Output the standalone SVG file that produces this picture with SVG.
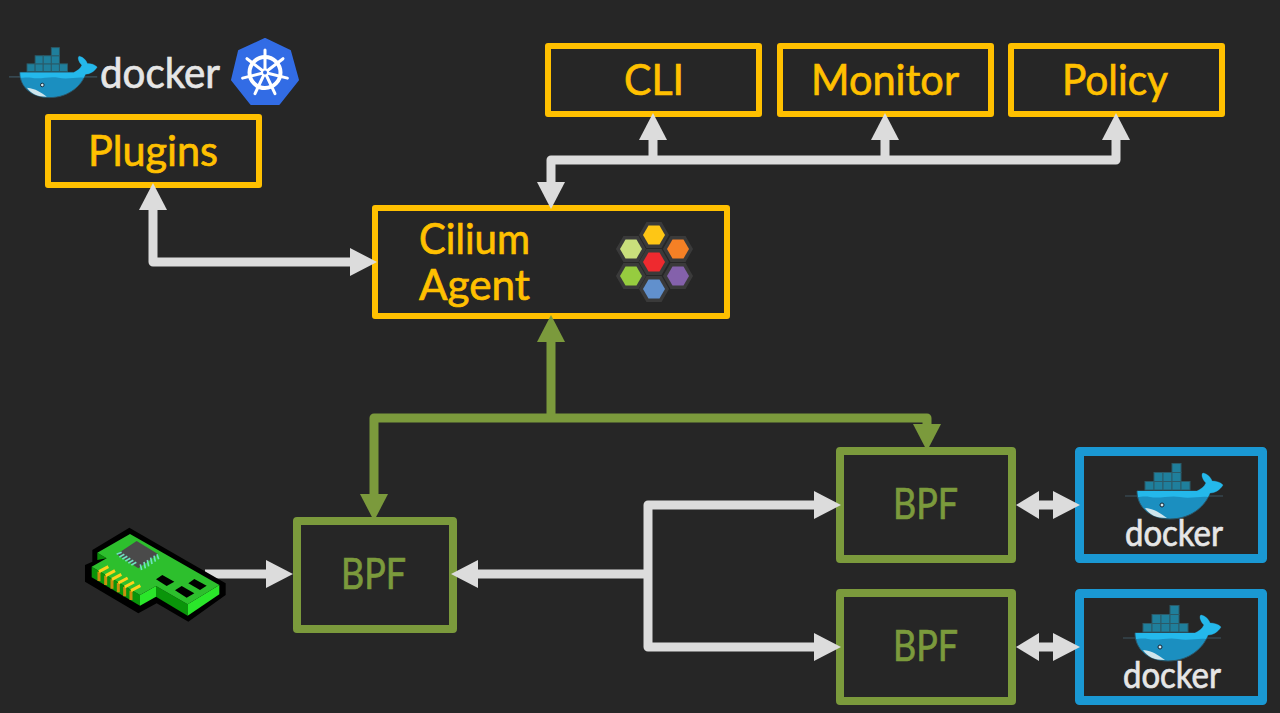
<svg xmlns="http://www.w3.org/2000/svg" xmlns:xlink="http://www.w3.org/1999/xlink" width="1280" height="713" viewBox="0 0 1280 713">
<style>
text{font-family:"Lato","Liberation Sans",sans-serif;font-weight:400;stroke-width:.7}
.y{fill:none;stroke:#ffc000;stroke-width:6;stroke-linejoin:round}
.g{fill:none;stroke:#7b9a3c;stroke-width:8;stroke-linejoin:round}
.b{fill:none;stroke:#1a98d3;stroke-width:9;stroke-linejoin:round}
.ty{fill:#ffc000;stroke:#ffc000;font-size:42px}
.tg{fill:#7b9a3c;stroke:#7b9a3c;font-size:42px}
.td{fill:#e6e6e6;stroke:#e6e6e6}
.w{fill:none;stroke:#dcdcdc;stroke-width:9;stroke-linejoin:round}
.l{fill:none;stroke:#7b9a3c;stroke-width:9;stroke-linejoin:round}
.hx{stroke:#3a3a3a;stroke-width:7;paint-order:stroke}
</style>
<defs>
<marker id="mw" markerUnits="userSpaceOnUse" markerWidth="27" markerHeight="28" refX="0" refY="14" orient="auto-start-reverse"><path d="M0 0L27 14L0 28Z" fill="#dcdcdc"/></marker>
<marker id="ms" markerUnits="userSpaceOnUse" markerWidth="23" markerHeight="28" refX="0" refY="14" orient="auto-start-reverse"><path d="M0 0L23 14L0 28Z" fill="#dcdcdc"/></marker>
<marker id="mg" markerUnits="userSpaceOnUse" markerWidth="27" markerHeight="28" refX="0" refY="14" orient="auto-start-reverse"><path d="M0 0L27 14L0 28Z" fill="#7b9a3c"/></marker>
<polygon id="hex" points="11,0 5.5,-9.5 -5.5,-9.5 -11,0 -5.5,9.5 5.5,9.5"/>
<g id="whale">
<path d="M115 51H213" stroke="#3d5560" stroke-width="1.2" fill="none"/>
<g fill="#1f7f9c" stroke="#2b5a68" stroke-width="1">
<rect x="135" y="36.500" width="9" height="8.500"/><rect x="144" y="36.500" width="9" height="8.500"/><rect x="153" y="36.500" width="9" height="8.500"/><rect x="162" y="36.500" width="9" height="8.500"/><rect x="171" y="36.500" width="9" height="8.500"/>
<rect x="144" y="27.500" width="9" height="9"/><rect x="153" y="27.500" width="9" height="9"/><rect x="162" y="27.500" width="9" height="9"/>
<rect x="162" y="18.500" width="9" height="9"/>
</g>
<path d="M127 46H187C191 44 194 42 196 38C192 34 191 29 193 28C198 29 201 33 202 36C206 36 210 37 213 40C210 45 205 48 200 48C196 60 182 74 160 74C140 74 127 62 127 46Z" fill="#1b8fc0" stroke="#2c5566" stroke-width="1"/>
<path d="M127.500 46H187C191 44 194 42 196 38C192 34 191 29 193 28C198 29 201 33 202 36C206 36 210 37 213 40C210 45 205 48 200 48L198 52C190 51 180 54 170 52C160 50 150 54 140 52C135 51 130 52 128 52Z" fill="#24b8eb"/>
<path d="M135 63C145 64 150 68 157 73C146 73 140 70 135 63Z" fill="#cfe5ec"/>
<circle cx="152" cy="60" r="2" fill="#d5e8ee" stroke="#123" stroke-width="1"/>
</g>
</defs>
<rect width="1280" height="713" fill="#262626"/>

<g id="plugins"><rect class="y" x="48" y="117" width="211" height="68"/><text class="ty" x="88" y="166" textLength="130" lengthAdjust="spacingAndGlyphs">Plugins</text></g>
<g id="cli"><rect class="y" x="548" y="46" width="211" height="68"/><text class="ty" x="624" y="95" textLength="60" lengthAdjust="spacingAndGlyphs">CLI</text></g>
<g id="monitor"><rect class="y" x="780" y="46" width="211" height="68"/><text class="ty" x="811" y="95" textLength="148" lengthAdjust="spacingAndGlyphs">Monitor</text></g>
<g id="policy"><rect class="y" x="1011" y="46" width="211" height="68"/><text class="ty" x="1062" y="95" textLength="106" lengthAdjust="spacingAndGlyphs">Policy</text></g>
<g id="agent">
<rect class="y" x="375" y="208" width="352" height="108"/>
<text class="ty" x="419" y="254" textLength="111" lengthAdjust="spacingAndGlyphs">Cilium</text>
<text class="ty" x="419" y="300" textLength="111" lengthAdjust="spacingAndGlyphs">Agent</text>
<g id="cilium-logo">
<use xlink:href="#hex" href="#hex" class="hx" x="654" y="235" fill="#fec615"/>
<use xlink:href="#hex" href="#hex" class="hx" x="631" y="249" fill="#c9df7c"/>
<use xlink:href="#hex" href="#hex" class="hx" x="678" y="249" fill="#f58025"/>
<use xlink:href="#hex" href="#hex" class="hx" x="654" y="262" fill="#ee2a2f"/>
<use xlink:href="#hex" href="#hex" class="hx" x="631" y="276" fill="#96cc3f"/>
<use xlink:href="#hex" href="#hex" class="hx" x="678" y="276" fill="#8461ab"/>
<use xlink:href="#hex" href="#hex" class="hx" x="654" y="289" fill="#6190cd"/>
</g>
</g>
<g id="bpf1"><rect class="g" x="297" y="521" width="156" height="108"/><text class="tg" x="341" y="589" textLength="65" lengthAdjust="spacingAndGlyphs">BPF</text></g>
<g id="bpf2"><rect class="g" x="840" y="451" width="172" height="108"/><text class="tg" x="893" y="519" textLength="65" lengthAdjust="spacingAndGlyphs">BPF</text></g>
<g id="bpf3"><rect class="g" x="840" y="593" width="172" height="108"/><text class="tg" x="893" y="661" textLength="65" lengthAdjust="spacingAndGlyphs">BPF</text></g>
<g id="docker1"><rect class="b" x="1079.500" y="451.500" width="183" height="107"/>
<use xlink:href="#whale" href="#whale" transform="translate(1010,445)"/>
<text class="td" x="1125" y="546" font-size="36" textLength="98" lengthAdjust="spacingAndGlyphs">docker</text></g>
<g id="docker2"><rect class="b" x="1079.500" y="593.500" width="183" height="107"/>
<use xlink:href="#whale" href="#whale" transform="translate(1008,587)"/>
<text class="td" x="1123" y="688" font-size="36" textLength="98" lengthAdjust="spacingAndGlyphs">docker</text></g>
<g id="docker-logo">
<use xlink:href="#whale" href="#whale" transform="translate(-94.500,31) scale(.9)"/>
<text class="td" x="100" y="88" font-size="42" textLength="120" lengthAdjust="spacingAndGlyphs">docker</text>
</g>
<g id="kubernetes">
<polygon points="265,39 290,51 298,80 279,104 251,104 232,80 239,51" fill="#326ce5" stroke="#326ce5" stroke-width="2" stroke-linejoin="round"/>
<circle cx="265" cy="72.500" r="15.500" fill="none" stroke="#fff" stroke-width="4"/>
<g stroke="#fff" stroke-width="3" stroke-linecap="round">
<path d="M265 72.500L265 50"/><path d="M265 72.500L283 58.700"/><path d="M265 72.500L287.400 78.100"/><path d="M265 72.500L275 93.700"/><path d="M265 72.500L255 93.700"/><path d="M265 72.500L242.600 78.100"/><path d="M265 72.500L247 58.700"/>
</g>
<circle cx="265" cy="72.500" r="4" fill="#fff"/><circle cx="265" cy="72.500" r="2" fill="#326ce5"/>
</g>

<g id="connectors">
<path class="w" d="M551 182V160H1116V140" marker-start="url(#mw)" marker-end="url(#mw)"/>
<path class="w" d="M653 160V140" marker-end="url(#mw)"/>
<path class="w" d="M885 160V140" marker-end="url(#mw)"/>
<path class="w" d="M153 210V262H350" marker-start="url(#mw)" marker-end="url(#mw)"/>
<path class="l" d="M551 418V342" marker-end="url(#mg)"/>
<path class="l" d="M927 424V418H374V494" marker-start="url(#mg)" marker-end="url(#mg)"/>
<path class="w" d="M205 574H266" marker-end="url(#mw)"/>
<path class="w" d="M648 574H478" marker-end="url(#mw)"/>
<path class="w" d="M814 505H648V647H814" marker-start="url(#mw)" marker-end="url(#mw)"/>
<path class="w" d="M1039 505H1053" marker-start="url(#ms)" marker-end="url(#mw)"/>
<path class="w" d="M1039 647H1053" marker-start="url(#ms)" marker-end="url(#mw)"/>
</g>

<g id="nic" transform="translate(75,515) scale(.33333)">
<polygon points="163,38 452,205 452,240 340,320 245,265 190,295 30,200 30,150 52,140 52,105" fill="#000"/>
<polygon points="67,113 95,130 67,135" fill="#0a8f0a"/>
<polygon points="243,213 338,268 338,302 243,245" fill="#0a950a"/>
<polygon points="338,268 433,210 433,238 338,302" fill="#2ae62a"/>
<polygon points="195,240 243,213 243,245 195,272" fill="#2ae62a"/>
<polygon points="50,155 195,240 195,272 50,187" fill="#0a950a"/>
<polygon points="165,57 433,210 338,268 243,213 195,240 50,155 95,130 67,113" fill="#2dbf2d"/>
<g stroke="#c8900f" stroke-width="9" fill="none">
<path d="M72 170V198M92 182V210M111 193V221M130 204V232M149 216V244M168 227V255"/>
</g>
<g stroke="#ffd21a" stroke-width="9" fill="none">
<path d="M72 170L100 155M92 182L120 167M111 193L139 178M130 204L158 189M149 216L177 201M168 227L196 212"/>
</g>
<polygon points="185,78 250,118 190,160 125,118" fill="#4a4a4a"/>
<g stroke="#6fe0c0" stroke-width="5" fill="none">
<path d="M125 118L140 112M133 126L148 118M142 132L157 124M151 138L166 130M160 144L175 136M169 150L184 142"/>
<path d="M200 165L196 148M211 160L207 141M221 154L217 135M231 147L227 128M241 140L237 122M251 133L246 118"/>
</g>
<polygon points="262,180 298,200 275,213 243,193" fill="#000"/>
<polygon points="320,213 358,235 335,248 300,226" fill="#000"/>
<polygon points="358,192 395,212 375,225 340,205" fill="#000"/>
</g>
</svg>
